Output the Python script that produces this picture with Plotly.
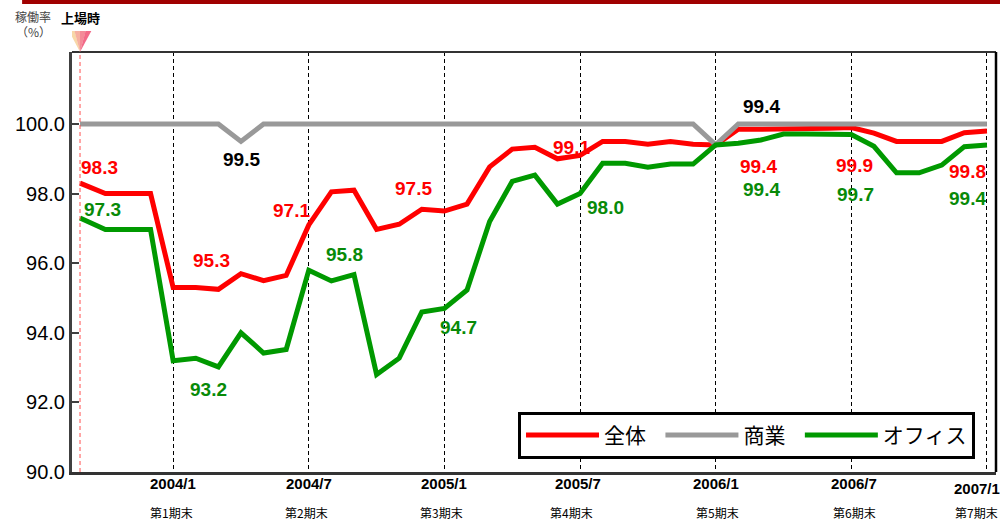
import plotly.graph_objects as go

# ---- data ----
# x positions in months relative to 2004/1 (first point = listing date, late Sept 2003)
month_pos = [-4.12] + list(range(-3, 37))

total = [98.3, 98.0, 98.0, 98.0, 95.3, 95.3, 95.25, 95.7, 95.5, 95.65,
         97.1, 98.05, 98.1, 96.97, 97.12, 97.55, 97.5, 97.7, 98.77, 99.28,
         99.33, 99.0, 99.1, 99.5, 99.5, 99.42, 99.5, 99.42, 99.4, 99.85,
         99.85, 99.85, 99.87, 99.88, 99.9, 99.74, 99.5, 99.5, 99.5, 99.75, 99.8]
retail = [100.0, 100.0, 100.0, 100.0, 100.0, 100.0, 100.0, 99.5, 100.0, 100.0,
          100.0, 100.0, 100.0, 100.0, 100.0, 100.0, 100.0, 100.0, 100.0, 100.0,
          100.0, 100.0, 100.0, 100.0, 100.0, 100.0, 100.0, 100.0, 99.4, 100.0,
          100.0, 100.0, 100.0, 100.0, 100.0, 100.0, 100.0, 100.0, 100.0, 100.0, 100.0]
office = [97.3, 96.97, 96.97, 96.97, 93.2, 93.27, 93.02, 94.0, 93.42, 93.52,
          95.8, 95.49, 95.67, 92.8, 93.27, 94.6, 94.7, 95.23, 97.2, 98.35,
          98.53, 97.7, 98.0, 98.87, 98.87, 98.76, 98.85, 98.85, 99.4, 99.45,
          99.54, 99.71, 99.71, 99.71, 99.7, 99.36, 98.6, 98.6, 98.82, 99.35, 99.4]

series_names = ["全体", "商業", "オフィス"]
period_pos = [0, 6, 12, 18, 24, 30, 36]
period_dates = ["2004/1", "2004/7", "2005/1", "2005/7", "2006/1", "2006/7", "2007/1"]
period_names = ["第1期末", "第2期末", "第3期末", "第4期末", "第5期末", "第6期末", "第7期末"]
y_ticks = [90, 92, 94, 96, 98, 100]

# labelled points: (index, xshift px, yshift px upward)
total_labels = [(0, 19, 16), (4, 38, 27), (10, -17, 14), (16, -31, 23),
                (22, -9, 8), (28, 43, -22), (34, 3, -38), (40, -19, -41)]
office_labels = [(0, 22, 8), (4, 35, -29), (10, 36, 16), (16, 14, -19),
                 (22, 25, -14), (28, 46, -45), (34, 4, -60), (40, -19, -54)]
retail_labels = [(7, 1, -18), (28, 46, 38)]

RED = "#FF0000"
GRAY = "#999999"
GREEN = "#009900"
GREEN_TXT = "#088A08"
NUM_FONT = "Liberation Sans, Arial, sans-serif"
JP_FONT = "Noto Sans CJK JP, sans-serif"
PAD = "\u00a0\u00a0"

fig = go.Figure()
for name, vals, col, pad in [(series_names[0], total, RED, PAD),
                             (series_names[1], retail, GRAY, PAD),
                             (series_names[2], office, GREEN, "")]:
    fig.add_trace(go.Scatter(x=month_pos, y=vals, mode="lines", name=name + pad,
                             line=dict(color=col, width=5), hoverinfo="skip"))

ann = []
def add_labels(vals, labels, color):
    for i, dx, dy in labels:
        ann.append(dict(x=month_pos[i], y=vals[i], xref="x", yref="y",
                        text="<b>%.1f</b>" % vals[i], showarrow=False,
                        xanchor="center", yanchor="middle",
                        xshift=dx, yshift=dy,
                        font=dict(family=NUM_FONT, size=19, color=color)))

add_labels(total, total_labels, RED)
add_labels(office, office_labels, GREEN_TXT)
add_labels(retail, retail_labels, "#000000")

# period labels below axis
date_shift = [0, 0, 0, -2, 0, 3, -10]
date_y = [-11, -11, -11, -11, -11, -11, -16]
name_shift = [-2, -2, -3, -9, 2, 3, -10]
name_y = [-40, -40, -40, -40, -40, -40, -40]
for k in range(len(period_pos)):
    ann.append(dict(x=period_pos[k], y=0, xref="x", yref="paper",
                    text="<b>%s</b>" % period_dates[k], showarrow=False,
                    xanchor="center", yanchor="middle",
                    xshift=date_shift[k], yshift=date_y[k],
                    font=dict(family=NUM_FONT, size=15, color="#000000")))
    ann.append(dict(x=period_pos[k], y=0, xref="x", yref="paper",
                    text=period_names[k], showarrow=False,
                    xanchor="center", yanchor="middle",
                    xshift=name_shift[k], yshift=name_y[k],
                    font=dict(family=JP_FONT, size=12, color="#000000")))

# axis title and listing marker text
ann.append(dict(x=0, y=1, xref="paper", yref="paper", text="稼働率",
                showarrow=False, xanchor="center", yanchor="middle",
                xshift=-39, yshift=36,
                font=dict(family=JP_FONT, size=12, color="#444444")))
ann.append(dict(x=0, y=1, xref="paper", yref="paper", text="（%）",
                showarrow=False, xanchor="center", yanchor="middle",
                xshift=-39, yshift=21,
                font=dict(family=JP_FONT, size=12, color="#444444")))
ann.append(dict(x=month_pos[0], y=1, xref="x", yref="paper", text="<b>上場時</b>",
                showarrow=False, xanchor="center", yanchor="middle", yshift=35,
                font=dict(family=JP_FONT, size=13, color="#000000")))

shapes = []
# top dark red bar
shapes.append(dict(type="rect", xref="paper", yref="paper", x0=-0.054, x1=1.01,
                   y0=1.114, y1=1.13, fillcolor="#A00000", line=dict(width=0)))
# top and right border
shapes.append(dict(type="line", xref="paper", yref="paper", x0=0, x1=1, y0=1, y1=1,
                   line=dict(color="#333333", width=2)))
shapes.append(dict(type="line", xref="paper", yref="paper", x0=1, x1=1, y0=0, y1=1,
                   line=dict(color="#000000", width=2.5)))
# listing date dashed line
shapes.append(dict(type="line", xref="x", yref="paper", x0=month_pos[0], x1=month_pos[0],
                   y0=0, y1=1, line=dict(color="#FF5050", width=1, dash="4px,3px")))
# listing triangle (pseudo-gradient)
tri_cols = ["#F8D8A8", "#F6B0A0", "#F48A98", "#F26A88"]
for j, c in enumerate(tri_cols):
    shapes.append(dict(type="path", xref="x", yref="paper",
                       path="M %f,1.05 L %f,1.05 L %f,1.0 Z" % (month_pos[0] - 0.49 + 0.245 * j,
                                                                 month_pos[0] - 0.49 + 0.245 * (j + 1) + 0.01,
                                                                 month_pos[0]),
                       fillcolor=c, line=dict(width=0), layer="above"))

fig.update_layout(
    width=1000, height=521,
    margin=dict(l=72, r=4, t=52, b=49),
    paper_bgcolor="white", plot_bgcolor="white",
    showlegend=True,
    legend=dict(orientation="h", x=0.4827, y=0.143, xanchor="left", yanchor="top",
                bgcolor="white", bordercolor="#000000", borderwidth=3,
                font=dict(family=JP_FONT, size=21, color="#000000"),
                itemwidth=73, entrywidth=0, tracegroupgap=0),
    xaxis=dict(range=[-4.475, 36.4], tickvals=period_pos, showticklabels=False,
               showgrid=True, gridcolor="#000000", gridwidth=1, griddash="4px,3px",
               zeroline=False, showline=True, linecolor="#333333", linewidth=3,
               ticks=""),
    yaxis=dict(range=[90, 102.07], tickvals=y_ticks, tickformat=".1f",
               showgrid=False, zeroline=False, showline=True, linecolor="#404040",
               linewidth=3, ticks="inside", ticklen=7, tickwidth=2, tickcolor="#404040",
               tickfont=dict(family=NUM_FONT, size=20, color="#000000")),
    annotations=ann, shapes=shapes,
)

fig.write_html("out.html", config={"displayModeBar": False},
               post_script="document.body.style.margin='0';")
